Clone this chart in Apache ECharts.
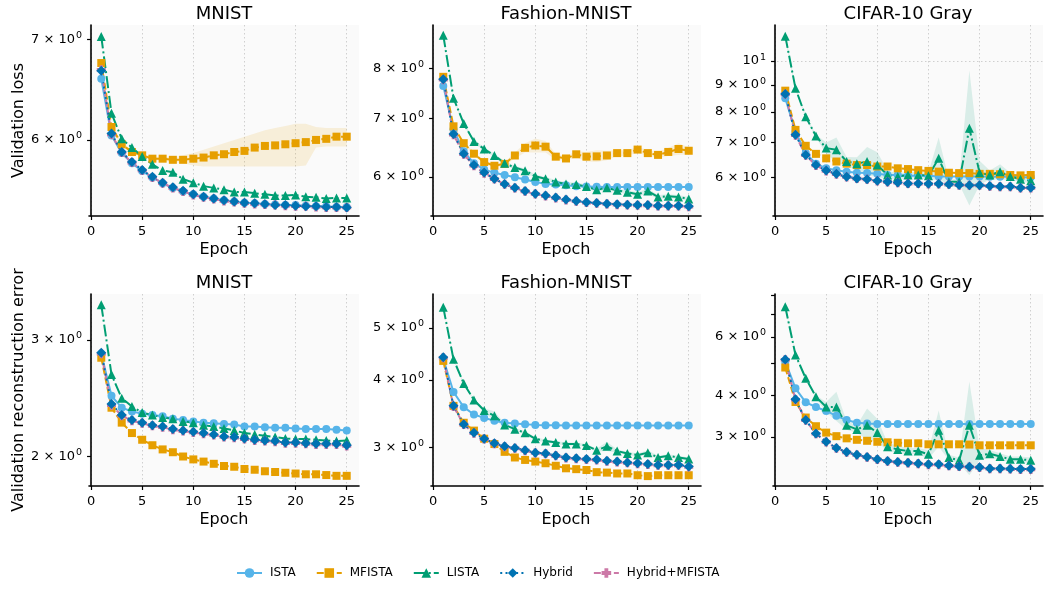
<!DOCTYPE html>
<html>
<head>
<meta charset="utf-8">
<title>Validation curves</title>
<script src="https://cdn.jsdelivr.net/npm/echarts@6/dist/echarts.min.js"></script>
<style>
  html, body { margin: 0; background: #fff; }
  #main { width: 1049px; height: 589px; }
</style>
</head>
<body>
<div id="main"></div>
<script>
var epochs = [1,2,3,4,5,6,7,8,9,10,11,12,13,14,15,16,17,18,19,20,21,22,23,24,25];

// MNIST, validation loss
var mnistLossIsta   = [6.59,6.04,5.88,5.79,5.72,5.665,5.615,5.575,5.545,5.52,5.50,5.485,5.47,5.46,5.45,5.445,5.44,5.435,5.43,5.43,5.425,5.42,5.42,5.415,5.415];
var mnistLossMfista = [6.75,6.12,5.96,5.89,5.86,5.83,5.83,5.82,5.82,5.83,5.84,5.86,5.87,5.89,5.90,5.93,5.945,5.95,5.96,5.97,5.98,6.00,6.01,6.03,6.03];
var mnistLossLista  = [7.03,6.25,6.01,5.93,5.85,5.78,5.725,5.71,5.65,5.62,5.59,5.575,5.56,5.54,5.54,5.53,5.52,5.51,5.51,5.515,5.50,5.495,5.485,5.49,5.49];
var mnistLossHybrid = [6.67,6.06,5.89,5.80,5.73,5.67,5.62,5.58,5.55,5.52,5.50,5.485,5.47,5.46,5.45,5.445,5.44,5.43,5.43,5.425,5.42,5.42,5.415,5.415,5.41];
var mnistLossHybMf  = [6.68,6.05,5.885,5.795,5.725,5.665,5.615,5.575,5.545,5.515,5.495,5.48,5.465,5.455,5.445,5.44,5.435,5.43,5.425,5.42,5.42,5.415,5.41,5.41,5.41];
var mnistLossMfistaLo = [6.73,6.10,5.94,5.875,5.845,5.815,5.81,5.80,5.79,5.77,5.76,5.76,5.76,5.76,5.76,5.76,5.76,5.76,5.76,5.76,5.77,5.93,5.94,5.94,5.94];
var mnistLossMfistaHi = [6.77,6.14,5.98,5.905,5.875,5.845,5.85,5.84,5.86,5.88,5.91,5.94,5.97,6.00,6.03,6.06,6.09,6.11,6.13,6.15,6.15,6.12,6.11,6.11,6.11];

// Fashion-MNIST, validation loss
var fashionLossIsta   = [7.63,6.80,6.42,6.22,6.12,6.065,6.03,5.995,5.96,5.92,5.89,5.88,5.87,5.855,5.85,5.845,5.84,5.84,5.84,5.84,5.84,5.84,5.84,5.84,5.84];
var fashionLossMfista = [7.82,6.86,6.56,6.38,6.24,6.18,6.21,6.35,6.48,6.52,6.50,6.33,6.30,6.37,6.33,6.335,6.35,6.39,6.39,6.45,6.39,6.36,6.41,6.46,6.43];
var fashionLossLista  = [8.73,7.39,6.91,6.59,6.46,6.35,6.22,6.15,6.10,6.01,5.97,5.92,5.89,5.88,5.85,5.80,5.83,5.79,5.76,5.73,5.78,5.69,5.70,5.69,5.66];
var fashionLossHybrid = [7.77,6.72,6.38,6.19,6.07,5.97,5.89,5.83,5.78,5.74,5.71,5.68,5.65,5.63,5.61,5.60,5.59,5.58,5.575,5.57,5.57,5.56,5.56,5.56,5.55];
var fashionLossHybMf  = [7.76,6.71,6.37,6.18,6.06,5.965,5.885,5.825,5.775,5.735,5.705,5.675,5.645,5.625,5.605,5.595,5.585,5.575,5.57,5.565,5.565,5.555,5.555,5.555,5.545];
var fashionLossMfistaLo = [7.80,6.84,6.54,6.35,6.21,6.15,6.18,6.30,6.40,6.40,6.40,6.28,6.26,6.32,6.25,6.24,6.27,6.34,6.34,6.40,6.34,6.31,6.34,6.36,6.37];
var fashionLossMfistaHi = [7.84,6.88,6.58,6.41,6.27,6.21,6.24,6.40,6.56,6.64,6.60,6.38,6.34,6.42,6.41,6.44,6.43,6.44,6.44,6.50,6.44,6.41,6.48,6.56,6.49];
var fashionLossListaLo = [8.70,7.36,6.88,6.56,6.43,6.32,6.18,6.12,6.07,5.98,5.94,5.89,5.86,5.85,5.82,5.77,5.79,5.76,5.73,5.70,5.74,5.66,5.67,5.66,5.63];
var fashionLossListaHi = [8.76,7.42,6.94,6.62,6.49,6.38,6.26,6.18,6.13,6.04,6.00,5.95,5.92,5.91,5.88,5.83,5.87,5.82,5.79,5.76,5.82,5.72,5.73,5.72,5.69];

// CIFAR-10 Gray, validation loss
var cifarLossIsta   = [8.49,7.33,6.67,6.37,6.24,6.19,6.15,6.12,6.11,6.09,6.06,6.06,6.04,6.04,6.04,6.02,6.02,6.02,6.02,6.02,6.01,6.01,6.01,6.00,6.00];
var cifarLossMfista = [8.78,7.39,6.89,6.65,6.52,6.43,6.37,6.33,6.33,6.29,6.29,6.24,6.22,6.19,6.17,6.15,6.12,6.11,6.11,6.09,6.09,6.08,6.06,6.05,6.06];
var cifarLossLista  = [11.16,8.87,7.83,7.19,6.82,6.77,6.43,6.37,6.43,6.33,6.06,6.02,6.06,6.06,6.04,6.52,5.88,5.88,7.44,6.12,6.06,6.15,6.02,5.95,5.91];
var cifarLossHybrid = [8.65,7.23,6.62,6.33,6.18,6.09,6.01,5.97,5.95,5.91,5.88,5.86,5.84,5.84,5.83,5.83,5.82,5.80,5.795,5.795,5.775,5.76,5.76,5.73,5.73];
var cifarLossHybMf  = [8.64,7.22,6.61,6.32,6.17,6.08,6.005,5.965,5.945,5.905,5.875,5.855,5.835,5.835,5.825,5.825,5.815,5.795,5.79,5.79,5.77,5.755,5.755,5.725,5.725];
var cifarLossListaLo = [11.0,8.80,7.78,7.14,6.65,6.40,6.30,6.20,6.05,6.00,5.95,5.95,5.97,5.97,5.95,5.92,5.83,5.82,5.30,5.80,5.95,5.95,5.93,5.88,5.85];
var cifarLossListaHi = [11.3,8.95,7.88,7.24,6.99,7.15,6.56,6.55,6.85,6.70,6.18,6.10,6.15,6.15,6.13,7.15,5.95,5.95,9.60,6.45,6.18,6.35,6.12,6.03,5.97];

// MNIST, validation reconstruction error
var mnistErrIsta   = [2.86,2.47,2.37,2.34,2.32,2.31,2.30,2.28,2.27,2.26,2.25,2.245,2.24,2.235,2.22,2.22,2.215,2.21,2.21,2.205,2.20,2.20,2.20,2.195,2.19];
var mnistErrMfista = [2.82,2.37,2.25,2.17,2.12,2.08,2.05,2.03,2.00,1.98,1.965,1.95,1.935,1.93,1.915,1.91,1.90,1.895,1.89,1.885,1.88,1.88,1.875,1.87,1.87];
var mnistErrLista  = [3.39,2.66,2.45,2.38,2.33,2.31,2.29,2.28,2.26,2.25,2.23,2.22,2.205,2.19,2.17,2.16,2.15,2.14,2.13,2.125,2.125,2.12,2.115,2.11,2.115];
var mnistErrHybrid = [2.87,2.40,2.31,2.27,2.25,2.23,2.22,2.20,2.19,2.18,2.17,2.16,2.145,2.14,2.13,2.12,2.115,2.11,2.10,2.10,2.095,2.09,2.09,2.09,2.08];
var mnistErrHybMf  = [2.86,2.39,2.305,2.265,2.245,2.225,2.215,2.195,2.185,2.175,2.165,2.155,2.14,2.135,2.125,2.115,2.11,2.105,2.095,2.095,2.09,2.085,2.085,2.085,2.075];

// Fashion-MNIST, validation reconstruction error
var fashionErrIsta   = [4.38,3.80,3.56,3.45,3.40,3.36,3.33,3.32,3.31,3.30,3.295,3.295,3.29,3.29,3.29,3.29,3.29,3.29,3.29,3.29,3.29,3.29,3.29,3.29,3.29];
var fashionErrMfista = [4.34,3.58,3.33,3.22,3.11,3.04,2.94,2.87,2.84,2.82,2.80,2.77,2.74,2.73,2.72,2.695,2.69,2.68,2.68,2.66,2.65,2.66,2.66,2.66,2.66];
var fashionErrLista  = [5.46,4.37,3.94,3.67,3.51,3.43,3.30,3.24,3.19,3.11,3.08,3.06,3.04,3.04,3.02,2.96,3.01,2.95,2.92,2.90,2.93,2.87,2.89,2.87,2.85];
var fashionErrHybrid = [4.41,3.58,3.31,3.19,3.11,3.05,3.01,2.99,2.96,2.93,2.92,2.895,2.87,2.86,2.85,2.845,2.83,2.82,2.81,2.80,2.79,2.78,2.78,2.78,2.76];
var fashionErrHybMf  = [4.40,3.57,3.305,3.185,3.105,3.045,3.005,2.985,2.955,2.925,2.915,2.89,2.865,2.855,2.845,2.84,2.825,2.815,2.805,2.795,2.785,2.775,2.775,2.775,2.755];
var fashionErrListaLo = [5.44,4.35,3.92,3.65,3.48,3.36,3.28,3.22,3.17,3.09,3.06,3.04,3.02,3.02,3.00,2.94,2.95,2.93,2.90,2.88,2.90,2.85,2.87,2.85,2.83];
var fashionErrListaHi = [5.48,4.39,3.96,3.69,3.54,3.50,3.32,3.26,3.21,3.13,3.10,3.08,3.06,3.06,3.04,2.98,3.07,2.97,2.94,2.92,2.96,2.89,2.91,2.89,2.87];

// CIFAR-10 Gray, validation reconstruction error
var cifarErrIsta   = [5.05,4.20,3.81,3.69,3.59,3.47,3.37,3.31,3.29,3.28,3.28,3.28,3.28,3.28,3.28,3.28,3.28,3.28,3.28,3.28,3.28,3.28,3.28,3.28,3.28];
var cifarErrMfista = [4.85,3.82,3.43,3.23,3.09,3.015,2.97,2.94,2.92,2.90,2.89,2.88,2.87,2.87,2.85,2.85,2.85,2.85,2.845,2.83,2.83,2.83,2.83,2.83,2.83];
var cifarErrLista  = [7.39,5.29,4.50,3.96,3.69,3.69,3.25,3.16,3.25,3.09,2.80,2.75,2.72,2.72,2.66,3.14,2.60,2.55,3.25,2.64,2.67,2.62,2.57,2.57,2.55];
var cifarErrHybrid = [5.13,3.89,3.37,3.07,2.90,2.78,2.70,2.65,2.61,2.57,2.54,2.52,2.51,2.495,2.48,2.48,2.46,2.45,2.44,2.43,2.41,2.41,2.405,2.40,2.40];
var cifarErrHybMf  = [5.12,3.88,3.365,3.065,2.895,2.775,2.695,2.645,2.605,2.565,2.535,2.515,2.505,2.49,2.475,2.475,2.455,2.445,2.435,2.425,2.405,2.405,2.40,2.395,2.395];
var cifarErrListaLo = [7.30,5.25,4.45,3.92,3.55,3.35,3.15,3.08,2.95,2.90,2.72,2.68,2.66,2.66,2.58,2.80,2.55,2.50,2.30,2.55,2.60,2.56,2.52,2.52,2.50];
var cifarErrListaHi = [7.48,5.33,4.55,4.00,3.82,4.10,3.35,3.25,3.65,3.40,2.88,2.82,2.78,2.78,2.74,3.60,2.65,2.60,4.40,2.78,2.74,2.68,2.62,2.62,2.60];

var xTicks = [0, 5, 10, 15, 20, 25];
var legendNames = ['ISTA', 'MFISTA', 'LISTA', 'Hybrid', 'Hybrid+MFISTA'];

var FONT = 'DejaVu Sans';
var style = {
  'ISTA':          { color: '#56B4E9', symbol: 'circle', size: 8, dash: 'solid' },
  'MFISTA':        { color: '#E69F00', symbol: 'rect', size: 8, dash: [7, 3] },
  'LISTA':         { color: '#009E73', symbol: 'triangle', size: 9, dash: [12, 3, 2, 3] },
  'Hybrid':        { color: '#0072B2', symbol: 'diamond', size: 10, dash: [2, 3.3] },
  'Hybrid+MFISTA': { color: '#CC79A7', symbol: 'path://M3,0L7,0L7,3L10,3L10,7L7,7L7,10L3,10L3,7L0,7L0,3L3,3Z', size: 9, dash: [7, 3] }
};

var panels = [
  { title: 'MNIST', left: 89, top: 25, height: 191, min: 5.34, max: 7.155,
    ticks: [6, 7], labels: [6, 7], yName: 'Validation loss',
    lines: { 'ISTA': mnistLossIsta, 'MFISTA': mnistLossMfista, 'LISTA': mnistLossLista, 'Hybrid+MFISTA': mnistLossHybMf, 'Hybrid': mnistLossHybrid },
    bands: [{ name: 'MFISTA', lo: mnistLossMfistaLo, hi: mnistLossMfistaHi }] },
  { title: 'Fashion-MNIST', left: 431, top: 25, height: 191, min: 5.41, max: 8.97,
    ticks: [6, 7, 8], labels: [6, 7, 8],
    lines: { 'ISTA': fashionLossIsta, 'MFISTA': fashionLossMfista, 'LISTA': fashionLossLista, 'Hybrid+MFISTA': fashionLossHybMf, 'Hybrid': fashionLossHybrid },
    bands: [{ name: 'MFISTA', lo: fashionLossMfistaLo, hi: fashionLossMfistaHi },
            { name: 'LISTA', lo: fashionLossListaLo, hi: fashionLossListaHi }] },
  { title: 'CIFAR-10 Gray', left: 773, top: 25, height: 191, min: 5.06, max: 11.72,
    ticks: [6, 7, 8, 9, 10], labels: [6, 7, 8, 9, 10], grid10: true,
    lines: { 'ISTA': cifarLossIsta, 'MFISTA': cifarLossMfista, 'LISTA': cifarLossLista, 'Hybrid+MFISTA': cifarLossHybMf, 'Hybrid': cifarLossHybrid },
    bands: [{ name: 'LISTA', lo: cifarLossListaLo, hi: cifarLossListaHi }] },
  { title: 'MNIST', left: 89, top: 294, height: 192, min: 1.805, max: 3.52,
    ticks: [2, 3], labels: [2, 3], yName: 'Validation reconstruction error',
    lines: { 'ISTA': mnistErrIsta, 'MFISTA': mnistErrMfista, 'LISTA': mnistErrLista, 'Hybrid+MFISTA': mnistErrHybMf, 'Hybrid': mnistErrHybrid },
    bands: [] },
  { title: 'Fashion-MNIST', left: 431, top: 294, height: 192, min: 2.54, max: 5.78,
    ticks: [3, 4, 5], labels: [3, 4, 5],
    lines: { 'ISTA': fashionErrIsta, 'MFISTA': fashionErrMfista, 'LISTA': fashionErrLista, 'Hybrid+MFISTA': fashionErrHybMf, 'Hybrid': fashionErrHybrid },
    bands: [{ name: 'LISTA', lo: fashionErrListaLo, hi: fashionErrListaHi }] },
  { title: 'CIFAR-10 Gray', left: 773, top: 294, height: 192, min: 2.135, max: 8.07,
    ticks: [3, 4, 5, 6, 7, 8], labels: [3, 4, 6],
    lines: { 'ISTA': cifarErrIsta, 'MFISTA': cifarErrMfista, 'LISTA': cifarErrLista, 'Hybrid+MFISTA': cifarErrHybMf, 'Hybrid': cifarErrHybrid },
    bands: [{ name: 'LISTA', lo: cifarErrListaLo, hi: cifarErrListaHi }] }
];

// matplotlib-like "6 x 10^0" labels, exponent as a raised smaller token
function sciLabel(v) {
  var r = Math.round(v * 1000) / 1000;
  if (r === 10) return '{m|10}{s|1}';
  return '{m|' + r + ' \u00d7 10}{s|0}';
}
var sciRich = {
  m: { fontFamily: FONT, fontSize: 13, color: '#000', lineHeight: 18 },
  s: { fontFamily: FONT, fontSize: 9.5, color: '#000', lineHeight: 11, verticalAlign: 'top', padding: [0, 0, 0, 1] }
};

var grids = [], xAxes = [], yAxes = [], titles = [], series = [];
var W = 270;

panels.forEach(function (p, i) {
  grids.push({ left: p.left, top: p.top, width: W, height: p.height, show: true,
               backgroundColor: '#fafafa', borderWidth: 0, containLabel: false });
  titles.push({ text: p.title, left: p.left + W / 2, top: p.top - 20, textAlign: 'center', padding: 0,
                textStyle: { fontFamily: FONT, fontSize: 18, fontWeight: 'normal', color: '#000' } });
  xAxes.push({
    type: 'value', gridIndex: i, min: -0.2, max: 26.2,
    name: 'Epoch', nameLocation: 'middle', nameGap: 25.5,
    nameTextStyle: { fontFamily: FONT, fontSize: 16, color: '#000' },
    axisLine: { show: true, lineStyle: { color: '#000', width: 1.6 } },
    axisTick: { show: true, length: 4, customValues: xTicks, lineStyle: { color: '#000', width: 1.2 } },
    axisLabel: { customValues: xTicks, fontFamily: FONT, fontSize: 13, color: '#000', margin: 9 },
    splitLine: { show: true, lineStyle: { color: '#c4c4c4', type: [1.5, 2.5], width: 0.8 } }
  });
  yAxes.push({
    type: 'log', logBase: 10, gridIndex: i, min: p.min, max: p.max,
    name: p.yName || '', nameLocation: 'middle', nameGap: 61,
    nameTextStyle: { fontFamily: FONT, fontSize: 16, color: '#000' },
    axisLine: { show: true, lineStyle: { color: '#000', width: 1.6 } },
    axisTick: { show: true, length: 4, customValues: p.ticks, lineStyle: { color: '#000', width: 1.2 } },
    axisLabel: { customValues: p.labels, formatter: sciLabel, rich: sciRich, margin: 7 },
    splitLine: { show: false },
    minorTick: { show: false }
  });
  var yIdx = yAxes.length - 1;
  if (p.grid10) {
    yAxes.push({
      type: 'log', logBase: 10, gridIndex: i, min: p.min, max: p.max, position: 'left',
      axisLine: { show: false }, axisLabel: { show: false },
      axisTick: { show: false, customValues: [10] },
      splitLine: { show: true, lineStyle: { color: '#c4c4c4', type: [1.5, 2.5], width: 0.8 } }
    });
  }

  p.bands.forEach(function (b) {
    series.push({
      type: 'custom', xAxisIndex: i, yAxisIndex: yIdx, silent: true, z: 1,
      data: [[epochs[0], b.lo[0]]],
      renderItem: function (params, api) {
        var pts = [];
        for (var k = 0; k < epochs.length; k++) pts.push(api.coord([epochs[k], b.hi[k]]));
        for (var k2 = epochs.length - 1; k2 >= 0; k2--) pts.push(api.coord([epochs[k2], b.lo[k2]]));
        return { type: 'polygon', shape: { points: pts },
                 style: { fill: style[b.name].color, opacity: 0.13 } };
      }
    });
  });

  Object.keys(p.lines).forEach(function (name) {
    var s = style[name];
    var vals = p.lines[name];
    series.push({
      type: 'line', name: name, xAxisIndex: i, yAxisIndex: yIdx, z: 3,
      data: epochs.map(function (e, k) { return [e, vals[k]]; }),
      symbol: s.symbol, symbolSize: s.size, showSymbol: true,
      lineStyle: { color: s.color, width: 2, type: s.dash },
      itemStyle: { color: s.color },
      emphasis: { disabled: true }
    });
  });
});

var chart = echarts.init(document.getElementById('main'), null, { renderer: 'canvas' });
chart.setOption({
  animation: false,
  backgroundColor: '#ffffff',
  textStyle: { fontFamily: FONT },
  title: titles,
  grid: grids,
  xAxis: xAxes,
  yAxis: yAxes,
  legend: {
    data: legendNames, left: 236, top: 567, padding: 0,
    itemWidth: 25, itemHeight: 12, itemGap: 20,
    textStyle: { fontFamily: FONT, fontSize: 12, color: '#000', padding: [0, 0, 0, 3] }
  },
  series: series
});
</script>
</body>
</html>
